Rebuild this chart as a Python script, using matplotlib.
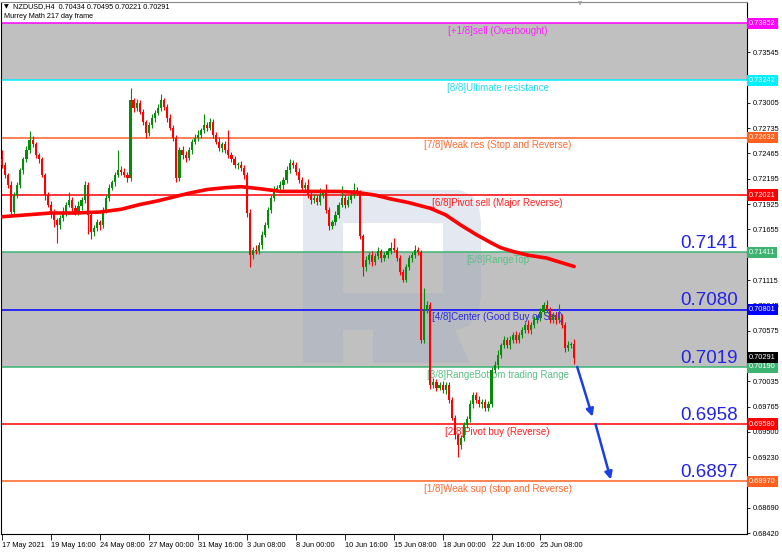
import matplotlib
matplotlib.use("Agg")
import matplotlib.pyplot as plt
from matplotlib.patches import Polygon
import matplotlib.transforms as mtransforms
import numpy as np

plt.rcParams['font.family'] = ['Liberation Sans', 'DejaVu Sans']

# ---------------- data ----------------
first_open = 0.7240
closes = [
    .7234, .7224, .7213, .7184, .7202, .7213, .7229, .7240, .7250, .7261,
    .7256, .7245, .7240, .7224, .7202, .7192, .7184, .7176, .7170, .7178,
    .7184, .7192, .7197, .7188, .7184, .7190, .7197, .7213, .7181, .7163,
    .7167, .7173, .7170, .7186, .7199, .7210, .7216, .7224, .7229, .7227,
    .7224, .7220, .7303, .7295, .7300, .7291, .7280, .7268, .7277, .7284,
    .7290, .7295, .7303, .7296, .7284, .7274, .7263, .7220, .7250, .7245,
    .7242, .7250, .7259, .7263, .7266, .7271, .7277, .7274, .7280, .7266,
    .7259, .7252, .7256, .7250, .7245, .7240, .7234, .7234, .7231, .7224,
    .7183, .7138, .7144, .7142, .7149, .7160, .7170, .7186, .7199, .7208,
    .7210, .7213, .7218, .7229, .7236, .7234, .7227, .7218, .7210, .7213,
    .7202, .7197, .7199, .7195, .7202, .7205, .7186, .7169, .7173, .7181,
    .7192, .7199, .7192, .7197, .7202, .7208, .7205, .7158, .7125, .7133,
    .7138, .7131, .7137, .7142, .7135, .7138, .7142, .7146, .7144, .7135,
    .7120, .7112, .7125, .7135, .7138, .7144, .7141, .7048, .7080, .7085,
    .7000, .7003, .6997, .7000, .6994, .7000, .6984, .6965, .6946, .6936,
    .6943, .6957, .6963, .6979, .6989, .6984, .6979, .6982, .6975, .6979,
    .7016, .7021, .7032, .7042, .7048, .7042, .7048, .7053, .7048, .7053,
    .7058, .7064, .7058, .7064, .7069, .7071, .7078, .7085, .7080, .7069,
    .7074, .7069, .7071, .7064, .7039, .7042, .7043, .7029,
]
# wick lengths in pips (0.0001)
wick_up = [
    10, 3, 2, 4, 3, 3, 2, 3, 4, 9,
    4, 3, 2, 3, 2, 3, 4, 3, 2, 3,
    5, 3, 8, 3, 4, 6, 3, 4, 3, 3,
    3, 4, 3, 3, 3, 4, 2, 3, 21, 4,
    4, 3, 13, 3, 4, 3, 3, 2, 3, 4,
    3, 4, 7, 3, 3, 4, 3, 3, 3, 4,
    4, 3, 3, 4, 5, 3, 11, 3, 4, 3,
    3, 5, 3, 4, 21, 3, 4, 3, 4, 3,
    3, 4, 3, 5, 3, 4, 3, 3, 3, 4,
    3, 4, 3, 4, 5, 3, 3, 4, 3, 3,
    6, 3, 4, 3, 8, 3, 9, 3, 3, 4,
    3, 13, 3, 4, 3, 7, 3, 3, 3, 4,
    3, 4, 3, 5, 3, 3, 4, 6, 10, 3,
    3, 3, 4, 3, 3, 5, 3, 3, 23, 4,
    3, 4, 3, 3, 4, 3, 3, 3, 3, 3,
    4, 3, 4, 5, 3, 3, 4, 3, 3, 4,
    3, 4, 5, 3, 4, 3, 4, 3, 4, 3,
    4, 3, 5, 3, 4, 3, 4, 3, 5, 3,
    4, 3, 15, 4, 3, 5, 3, 6,
]
wick_dn = [
    3, 4, 3, 5, 3, 3, 3, 4, 3, 3,
    3, 3, 4, 3, 5, 3, 6, 8, 19, 4,
    3, 4, 3, 4, 3, 3, 4, 3, 20, 8,
    4, 3, 5, 3, 3, 3, 3, 4, 3, 3,
    3, 4, 3, 4, 3, 3, 3, 5, 3, 3,
    4, 3, 3, 3, 4, 3, 3, 4, 3, 4,
    5, 3, 4, 3, 3, 3, 3, 4, 3, 3,
    3, 3, 4, 3, 3, 3, 3, 4, 3, 5,
    4, 13, 4, 3, 3, 4, 3, 3, 3, 3,
    3, 3, 4, 3, 3, 3, 4, 3, 3, 4,
    3, 4, 3, 4, 3, 3, 3, 4, 3, 3,
    3, 3, 4, 3, 3, 3, 3, 3, 9, 4,
    4, 5, 3, 3, 4, 3, 3, 3, 3, 3,
    3, 3, 3, 3, 4, 3, 3, 3, 3, 4,
    4, 3, 4, 3, 3, 4, 3, 3, 4, 13,
    4, 3, 3, 3, 4, 3, 3, 4, 3, 3,
    3, 3, 4, 3, 3, 3, 4, 3, 3, 4,
    3, 3, 3, 4, 3, 3, 3, 3, 3, 3,
    3, 4, 3, 3, 4, 3, 3, 7,
]

# moving average (bar index, price)
ma_idx = [0, 8, 16, 24, 32, 39, 45, 51, 56, 61, 67, 73, 78, 84, 91, 97, 105,
          110, 116, 122, 127, 133, 140, 145, 150, 155, 160, 163, 167, 172, 178,
          182, 187]
ma_val = [.7179, .7181, .7183, .7183, .7184, .7187, .7192, .7196, .7200, .7204,
          .7208, .7210, .7211, .7209, .7206, .7206, .7206, .7206, .7205, .7202,
          .7198, .7194, .7188, .7181, .7170, .7160, .7151, .7146, .7142, .7138,
          .7135, .7131, .7126]

# Murrey math levels
levels = [0.73852, 0.73242, 0.72632, 0.72021, 0.71411, 0.70801, 0.70190, 0.69580, 0.68970]
level_names = ["[+1/8]sell (Overbought)", "[8/8]Ultimate resistance",
               "[7/8]Weak res (Stop and Reverse)", "[6/8]Pivot sell (Major Reverse)",
               "[5/8]RangeTop", "[4/8]Center (Good Buy or Sell)",
               "[3/8]RangeBottom trading Range", "[2/8]Pivot buy (Reverse)",
               "[1/8]Weak sup (stop and Reverse)"]
level_colors = ['#ff00ff', '#00f0ff', '#ff6020', '#ff0000', '#3cb371',
                '#0000ff', '#3cb371', '#ff0000', '#ff6020']
level_text_colors = ['#ff22ff', '#22ddee', '#ff6a30', '#ff2020', '#5cbf85',
                     '#2a2ad8', '#5cbf85', '#ff2020', '#ff6a30']
grey_bands = [(0.73242, 0.73852), (0.70190, 0.71411)]

big_labels = ["0.7141", "0.7080", "0.7019", "0.6958", "0.6897"]
big_label_levels = [0.71411, 0.70801, 0.70190, 0.69580, 0.68970]

current_price = 0.70291

# forecast arrows (bar index, price)
arrow_start = [(188, 0.7019), (194, 0.6958)]
arrow_end = [(193, 0.6966), (199, 0.6899)]

x_tick_idx = [0, 16, 32, 48, 64, 80, 96, 112, 128, 144, 160, 176]
x_tick_labels = ["17 May 2021", "19 May 16:00", "24 May 08:00", "27 May 00:00",
                 "31 May 16:00", "3 Jun 08:00", "8 Jun 00:00", "10 Jun 16:00",
                 "15 Jun 08:00", "18 Jun 00:00", "22 Jun 16:00", "25 Jun 08:00"]
y_tick_vals = [0.73815, 0.73545, 0.73005, 0.72735, 0.72465, 0.72195, 0.71925,
               0.71655, 0.71115, 0.70845, 0.70575, 0.70035, 0.69765,
               0.69500, 0.69230, 0.68690, 0.68420]
y_tick_labels = ["%.5f" % v for v in y_tick_vals]

header1 = "NZDUSD,H4  0.70434 0.70495 0.70221 0.70291"
header2 = "Murrey Math 217 day frame"

# ---------------- figure ----------------
W, H = 782, 552
fig = plt.figure(figsize=(W / 100, H / 100), dpi=100)
ax = fig.add_axes([1 / W, 1 - 534 / H, 746 / W, 532 / H])
ax.set_xlim(-0.33, 243.5)
ax.set_ylim(0.68410, 0.74078)

for lo, hi in grey_bands:
    ax.axhspan(lo, hi, color='#c0c0c0', lw=0, zorder=0)

# watermark "R" (figure pixel coordinates)
def px(x, y):
    return (x / W, 1 - y / H)

wm_parts = [
    [(303, 190), (343, 190), (343, 363), (303, 363)],
    [(343, 190), (443, 190), (443, 223), (343, 223)],
    [(443, 190), (460, 190), (472, 195), (479, 207), (481, 222), (481, 298),
     (478, 314), (468, 326), (455, 330), (443, 330)],
    [(343, 293), (443, 293), (443, 330), (343, 330)],
    [(373, 330), (455, 330), (470, 363), (373, 363)],
]
for part in wm_parts:
    ax.add_patch(Polygon([px(*p) for p in part], closed=True, transform=fig.transFigure,
                         facecolor='#96a5c8', edgecolor='none', alpha=0.25, zorder=0.5))

# level lines and labels
for lv, name, c, tc in zip(levels, level_names, level_colors, level_text_colors):
    ax.axhline(lv, color=c, lw=1.1, zorder=1)
    ax.annotate(name, xy=(162, lv), xytext=(0, -2), textcoords='offset points',
                ha='center', va='top', fontsize=7, color=tc, zorder=1.5)

# big labels
for txt, lv in zip(big_labels, big_label_levels):
    ax.annotate(txt, xy=(240.5, lv), xytext=(0, 3), textcoords='offset points',
                ha='right', va='baseline', fontsize=13.5, color='#2323e6', zorder=1.5)

# candles
n = len(closes)
opens = [first_open] + closes[:-1]
idx = np.arange(n)
o = np.array(opens)
c = np.array(closes)
hi = np.maximum(o, c) + np.array(wick_up) * 1e-4
lo = np.minimum(o, c) - np.array(wick_dn) * 1e-4
up = c >= o
col = np.where(up, '#0a8a0a', '#ff0000')
ax.vlines(idx, lo, hi, colors=col, lw=0.8, zorder=3)
body_h = np.maximum(np.abs(c - o), 0.00008)
ax.bar(idx, body_h, bottom=np.minimum(o, c), width=0.7, color=col, lw=0, zorder=3.5)

# moving average
ax.plot(ma_idx, ma_val, color='#ff0000', lw=2.6, solid_capstyle='round',
        solid_joinstyle='round', zorder=4)

# arrows
for s, e in zip(arrow_start, arrow_end):
    ax.annotate('', xy=e, xytext=s,
                arrowprops=dict(arrowstyle='-|>', color='#1a3ee8', lw=1.8,
                                mutation_scale=11, shrinkA=0, shrinkB=0), zorder=5)

# axes styling
ax.yaxis.tick_right()
ax.set_yticks(y_tick_vals)
ax.set_yticklabels(y_tick_labels)
ax.set_xticks(x_tick_idx)
ax.set_xticklabels(x_tick_labels, ha='left')
ax.tick_params(axis='y', labelsize=5.3, length=2.5, width=0.6, pad=1.5, colors='#000000')
ax.tick_params(axis='x', labelsize=5.3, length=4, width=0.6, pad=2, colors='#000000')
for sp in ax.spines.values():
    sp.set_linewidth(0.8)
    sp.set_color('#000000')
ax.spines['top'].set_color('#888888')

# right-side price boxes
blend = mtransforms.blended_transform_factory(ax.transAxes, ax.transData)
for lv, cc in zip(levels, level_colors):
    ax.text(1.0025, lv, "%.5f" % lv, transform=blend, ha='left', va='center',
            fontsize=5.3, color='white', zorder=6, clip_on=False,
            bbox=dict(boxstyle='square,pad=0.3', fc=cc, ec='none'))
ax.text(1.0025, current_price, "%.5f" % current_price, transform=blend, ha='left',
        va='center', fontsize=5.3, color='white', zorder=7, clip_on=False,
        bbox=dict(boxstyle='square,pad=0.3', fc='#000000', ec='none'))

# header
fig.text(4 / W, 1 - 7 / H, "\u25BC", fontsize=4.5, va='center', ha='left',
         family=['DejaVu Sans'])
fig.text(13 / W, 1 - 7 / H, header1, fontsize=5.2, va='center', ha='left')
fig.text(4 / W, 1 - 16.5 / H, header2, fontsize=5.2, va='center', ha='left')
fig.text(580 / W, 1 - 4 / H, "\u25BC", fontsize=4, va='center', ha='center',
         color='#a0a0a0', family=['DejaVu Sans'])

fig.savefig("out.png", dpi=100)
